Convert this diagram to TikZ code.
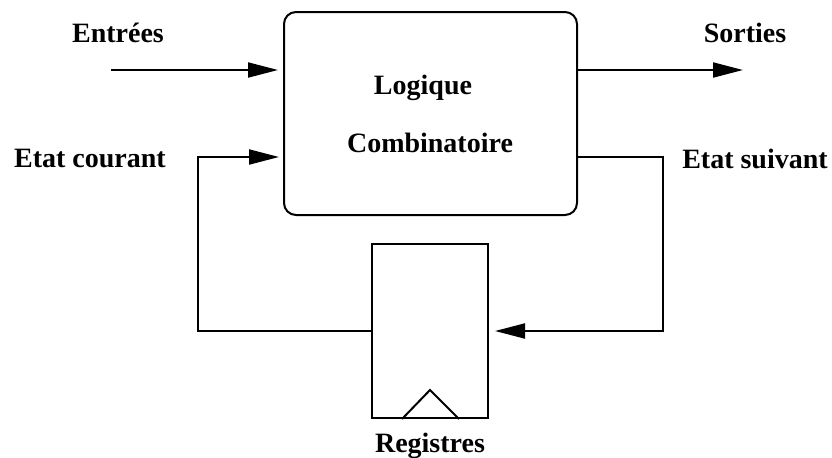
\documentclass[tikz,border=0pt]{standalone}
\usepackage{fontspec}
\setmainfont{Liberation Serif}
\usetikzlibrary{ % tikz packages
    positioning,
    arrows.meta
}
\tikzset{every node/.style={
    font=\fontsize{14}{17}\selectfont\bfseries
}}
\tikzset{>={Triangle[length=15pt,width=7.5pt]}}
\tikzset{logicbox/.style={
    draw, line width=1pt, rounded corners=6pt,
    minimum width=146.5pt, minimum height=101.5pt
}}
\tikzset{regbox/.style={
    draw, line width=1pt,
    minimum width=58pt, minimum height=87pt
}}
\tikzset{label/.style={anchor=base, inner sep=0pt}}

\begin{document}
\begin{tikzpicture}[x=0.5pt,y=-0.5pt,line width=1pt]
            \useasboundingbox (0,0) rectangle (832,457);

            \node[logicbox] (logic) at (430.5,113.5) {};
            \node[regbox] (reg) at (430,331) {};

            \node[label] (logique) at (423,94) {Logique};
            \node[label] (combi) at (430,152) {Combinatoire};
            \node[label] (regs) at (430,452) {Registres};
            \node[label] (entrees) at (118,42) {Entrées};
            \node[label] (sorties) at (745,42) {Sorties};
            \node[label] (courant) at (90,167) {Etat courant};
            \node[label] (suivant) at (755,168) {Etat suivant};

            \coordinate (in) at (111,70);
            \coordinate (out) at (743,70);
            \coordinate (cc) at (198,157);
            \coordinate (ns) at (663,157);

            % clock
            \draw ([xshift=-14pt]reg.south) -- ([yshift=14.5pt]reg.south)
                -- ([xshift=14.5pt]reg.south);

            \draw[->, shorten >=2.5pt] (in) -- (in -| logic.west);
            \draw[->] (in -| logic.east) -- (out);
            \draw[->, shorten >=2pt] (reg.west) -| (cc) -- (cc -| logic.west);
            \draw[->, shorten >=3pt] (ns -| logic.east) -- (ns) |- (reg.east);
        \end{tikzpicture}
\end{document}
